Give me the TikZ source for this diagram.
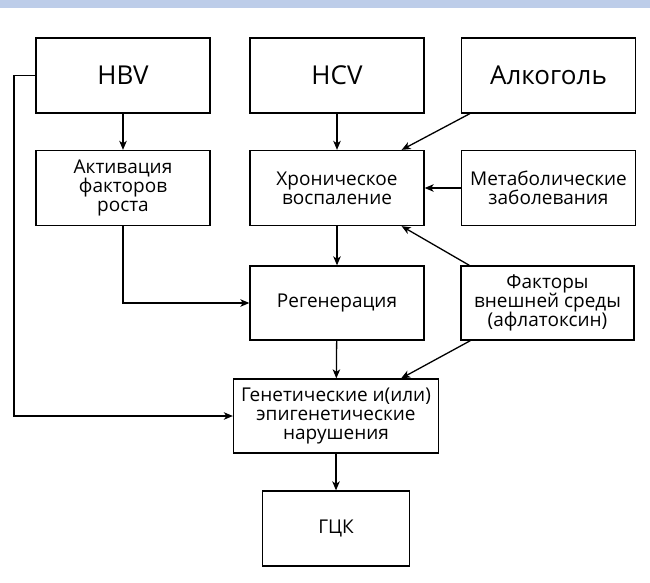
\documentclass[tikz,border=0pt]{standalone}
\usepackage{fontspec}
\setmainfont{Open Sans}
\usetikzlibrary{arrows.meta,calc,positioning}
\definecolor{bandblue}{HTML}{BDCDE9}
\tikzset{
  blk/.style={draw,line width=1.3pt,minimum width=174pt,minimum height=75pt,
    align=center,inner sep=2pt,font=\fontsize{19}{19}\selectfont},
  bigblk/.style={blk,font=\fontsize{26}{28}\selectfont},
  arr/.style={-{Stealth[length=9pt,width=7.5pt,inset=2.5pt]},line width=1.3pt},
  link/.style={line width=1.3pt}
}
\begin{document}
\begin{tikzpicture}[x=1pt,y=-1pt]
\useasboundingbox (0,0) rectangle (650,583);
\fill[bandblue] (0,0) rectangle (650,8);
% top row
\node[bigblk] (hbv) at (123,75.5) {HBV};
\node[bigblk] (hcv) at (337,75.5) {HCV};
\node[bigblk] (alc) at (548.5,75.5) {Алкоголь};
% second row
\node[blk] (akt) at (123,188) {Активация\\факторов\\роста};
\node[blk] (chr) at (337,188) {Хроническое\\воспаление};
\node[blk] (met) at (548.5,188) {Метаболические\\заболевания};
% third row
\node[blk,minimum height=74pt] (reg) at (337,303) {Регенерация};
\node[blk,minimum height=74pt,minimum width=173pt] (fak) at (547.5,303) {Факторы\\внешней среды\\(афлатоксин)};
% bottom
\node[blk,minimum height=74pt,minimum width=205pt] (gen) at (336,416) {Генетические и(или)\\эпигенетические\\нарушения};
\node[blk,minimum width=147pt] (gck) at (336,528.5) {ГЦК};
\coordinate (lft) at (14,0);
% connectors
\draw[arr] (hbv) -- (akt);
\draw[arr] (hcv) -- (chr);
\draw[arr] ([xshift=9pt]alc.south west) -- ([xshift=-23pt]chr.north east);
\draw[arr] (met.west) -- (chr.east);
\draw[arr] ([xshift=9pt]fak.north west) -- ([xshift=-23pt]chr.south east);
\draw[arr] (chr) -- (reg);
\draw[arr] (akt.south) |- (reg.west);
\draw[arr] (reg) -- (gen);
\draw[arr] ([xshift=10pt]fak.south west) -- ([xshift=-38pt]gen.north east);
\draw[arr] (hbv.west) -- (hbv.west -| lft) |- (gen.west);
\draw[arr] (gen) -- (gck);
\end{tikzpicture}
\end{document}
